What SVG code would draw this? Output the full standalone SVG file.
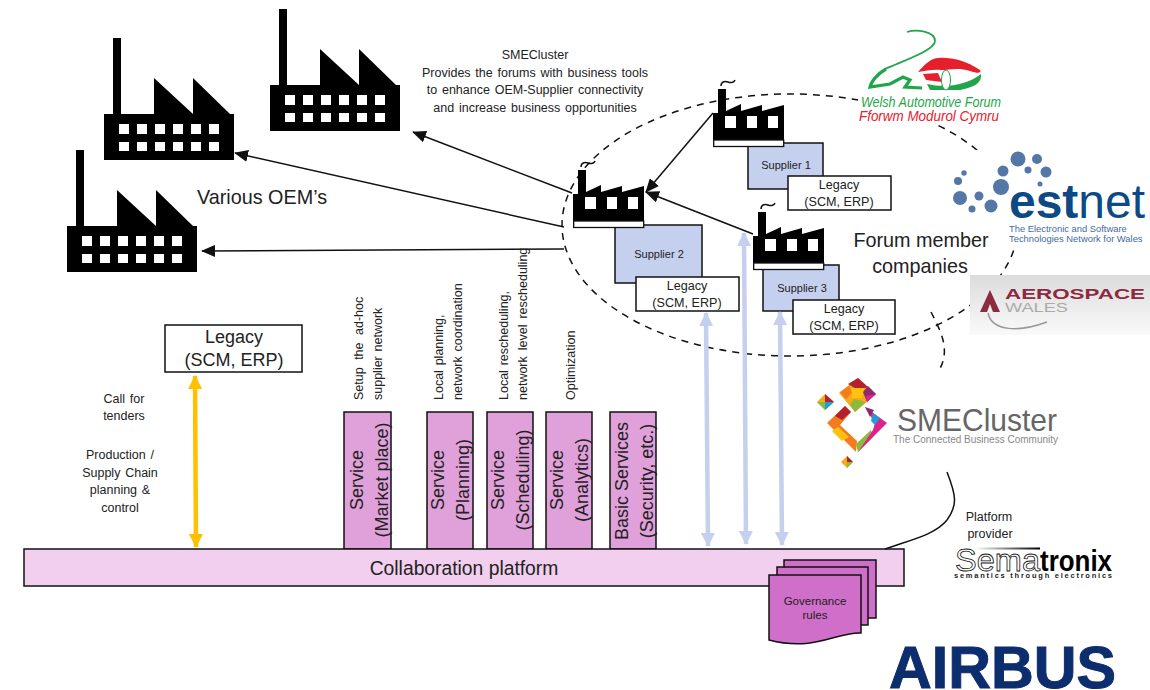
<svg xmlns="http://www.w3.org/2000/svg" width="1150" height="690" viewBox="0 0 1150 690">
<style>
text{font-family:"Liberation Sans",Arial,sans-serif;fill:#222}
.m{text-anchor:middle}
.t12{font-size:12.5px;word-spacing:1.3px}
.t18{font-size:18px}
.t20{font-size:19.8px}
.box{stroke:#111;stroke-width:1.5}
.sup{fill:#c5d0ee}
.leg{fill:#fff}
.svc{fill:#e0a0da}
.doc{fill:#cf6fc9;stroke:#111;stroke-width:1.5}
.line{fill:none;stroke:#111;stroke-width:1.5}
.blue{fill:none;stroke:#c5d0ee;stroke-width:4.5}
</style>
<defs>
<marker id="ab" markerUnits="userSpaceOnUse" markerWidth="14" markerHeight="12" refX="13" refY="6" orient="auto-start-reverse"><path d="M0,0L14,6L0,12z" fill="#111"/></marker>
<marker id="al" markerUnits="userSpaceOnUse" markerWidth="14" markerHeight="14" refX="13" refY="7" orient="auto-start-reverse"><path d="M0,0L14,7L0,14z" fill="#c5d0ee"/></marker>
<marker id="ay" markerUnits="userSpaceOnUse" markerWidth="14" markerHeight="14" refX="13" refY="7" orient="auto-start-reverse"><path d="M0,0L14,7L0,14z" fill="#ffc000"/></marker>
<linearGradient id="aero" x1="0" y1="0" x2="0" y2="1"><stop offset="0" stop-color="#dcdcdc"/><stop offset="1" stop-color="#fafafa"/></linearGradient>
<linearGradient id="sb" x1="0" y1="0" x2="1" y2="0"><stop offset="0" stop-color="#fff"/><stop offset="1" stop-color="#000"/></linearGradient>
<g id="oem">
<path d="M0,122V76H9V0H17V76H50V40L89,76V40L126,76H130V122Z" fill="#000"/>
<g fill="#fff"><path d="M15,86h10v10H15zM33,86h10v10H33zM51,86h10v10H51zM69,86h10v10H69zM87,86h10v10H87zM105,86h10v10H105zM15,104h10v9H15zM33,104h10v9H33zM51,104h10v9H51zM69,104h10v9H69zM87,104h10v9H87zM105,104h10v9H105z"/></g>
</g>
<g id="small">
<path d="M8,-3C8,-8 13,-8 15,-7S21,-6 22,-9" fill="none" stroke="#111" stroke-width="1.5"/>
<path d="M0,58V24H5V0H13V22L28,15V22L49,16V22L71,16V58Z" fill="#000"/>
<path d="M12,27h11v12H12zM34,27h10v12H34zM55,27h10v12H55z" fill="#fff"/>
<rect x="0.7" y="51" width="70" height="6.5" fill="#fff" stroke="#111" stroke-width="1.3"/>
</g>
</defs>
<rect width="1150" height="690" fill="#fff"/>

<ellipse id="forum-boundary" cx="790" cy="225" rx="228" ry="131" fill="none" stroke="#111" stroke-width="1.5" stroke-dasharray="7 6"/>

<g id="oem-1"><use href="#oem" x="104" y="38"/></g>
<g id="oem-2"><use href="#oem" x="270" y="9"/></g>
<g id="oem-3"><use href="#oem" x="67" y="150"/></g>

<g id="supplier-1"><rect class="box sup" x="748" y="143" width="75" height="46"/><text class="m" x="786" y="169" font-size="11">Supplier 1</text></g>
<g id="supplier-2"><rect class="box sup" x="615" y="225" width="87" height="58"/><text class="m" x="659" y="258" font-size="11">Supplier 2</text></g>
<g id="supplier-3"><rect class="box sup" x="763" y="265" width="76" height="46"/><text class="m" x="802" y="292" font-size="11">Supplier 3</text></g>
<g id="factory-1"><use href="#small" x="713" y="89"/></g>
<g id="factory-2"><use href="#small" x="573" y="170"/></g>
<g id="factory-3"><use href="#small" x="753" y="212"/></g>
<g id="legacy-1"><rect class="box leg" x="788" y="176" width="103" height="34"/><text class="m" x="839" y="189" font-size="12.6">Legacy</text><text class="m" x="839" y="206" font-size="12.6">(SCM, ERP)</text></g>
<g id="legacy-2"><rect class="box leg" x="636" y="277" width="103" height="34"/><text class="m" x="687" y="290" font-size="12.6">Legacy</text><text class="m" x="687" y="307" font-size="12.6">(SCM, ERP)</text></g>
<g id="legacy-3"><rect class="box leg" x="793" y="300" width="102" height="34"/><text class="m" x="844" y="313" font-size="12.6">Legacy</text><text class="m" x="844" y="330" font-size="12.6">(SCM, ERP)</text></g>
<g id="legacy-oem"><rect class="box leg" x="165" y="325" width="137" height="47"/><text class="m" x="234" y="343" font-size="18">Legacy</text><text class="m" x="234" y="366" font-size="18">(SCM, ERP)</text></g>

<g id="svc-market"><rect class="box svc" x="344" y="412" width="47" height="137"/><g transform="translate(363,480) rotate(-90)"><text class="m t18">Service</text><text class="m t18" y="25">(Market place)</text></g></g>
<g id="svc-planning"><rect class="box svc" x="427" y="412" width="46" height="137"/><g transform="translate(444,480) rotate(-90)"><text class="m t18">Service</text><text class="m t18" y="25">(Planning)</text></g></g>
<g id="svc-scheduling"><rect class="box svc" x="487" y="412" width="46" height="137"/><g transform="translate(504,480) rotate(-90)"><text class="m t18">Service</text><text class="m t18" y="25">(Scheduling)</text></g></g>
<g id="svc-analytics"><rect class="box svc" x="546" y="412" width="46" height="137"/><g transform="translate(563,480) rotate(-90)"><text class="m t18">Service</text><text class="m t18" y="25">(Analytics)</text></g></g>
<g id="svc-basic"><rect class="box svc" x="610" y="412" width="46" height="137"/><g transform="translate(628,481) rotate(-90)"><text class="m t18">Basic Services</text><text class="m t18" y="25">(Security, etc.)</text></g></g>

<g id="platform"><rect class="box" x="24" y="549" width="880" height="37" fill="#f2cfee"/><text class="m" x="464" y="575" font-size="19.3">Collaboration platform</text></g>

<g id="governance">
<rect class="doc" x="784" y="560" width="92" height="58"/>
<rect class="doc" x="777" y="567" width="91" height="58"/>
<path class="doc" d="M769,575H861V633C835,632 815,652 769,640Z"/>
<text class="m" x="815" y="605" font-size="11.5">Governance</text>
<text class="m" x="815" y="619" font-size="11.5">rules</text>
</g>

<g id="connectors">
<path class="line" marker-end="url(#ab)" d="M713,113L646,192"/>
<path class="line" marker-end="url(#ab)" d="M753,234L646,192"/>
<path class="line" marker-end="url(#ab)" d="M572,193L413,132"/>
<path class="line" marker-end="url(#ab)" d="M564,227L235,153"/>
<path class="line" marker-end="url(#ab)" d="M564,249L202,251"/>
<path class="blue" marker-start="url(#al)" marker-end="url(#al)" d="M706,313L708,546"/>
<path class="blue" marker-start="url(#al)" marker-end="url(#al)" d="M744,233L746,544"/>
<path class="blue" marker-start="url(#al)" marker-end="url(#al)" d="M780,312L782,545"/>
<path fill="none" stroke="#ffc000" stroke-width="4.5" marker-start="url(#ay)" marker-end="url(#ay)" d="M195,376L196,547"/>
<path class="line" d="M947,472C956,495 958,505 947,520C935,535 910,540 885,549"/>
</g>

<g id="labels">
<text class="m t12" x="535" y="59">SMECluster</text>
<text class="m t12" x="535" y="77">Provides the forums with business tools</text>
<text class="m t12" x="535" y="94">to enhance OEM-Supplier connectivity</text>
<text class="m t12" x="535" y="112">and increase business opportunities</text>
<text class="t20" x="197" y="204">Various OEM’s</text>
<text class="m t20" x="921" y="247">Forum member</text>
<text class="m t20" x="920" y="273">companies</text>
<text class="m t12" x="124" y="403">Call for</text>
<text class="m t12" x="124" y="420">tenders</text>
<text class="m t12" x="120" y="459">Production /</text>
<text class="m t12" x="120" y="477">Supply Chain</text>
<text class="m t12" x="120" y="494">planning &amp;</text>
<text class="m t12" x="120" y="512">control</text>
<text class="m t12" x="989" y="521">Platform</text>
<text class="m t12" x="990" y="538">provider</text>
<text class="t12" transform="translate(363,400) rotate(-90)" style="word-spacing:4px">Setup the ad-hoc</text>
<text class="t12" transform="translate(382,400) rotate(-90)">supplier network</text>
<text class="t12" transform="translate(443,400) rotate(-90)">Local planning,</text>
<text class="t12" transform="translate(462,400) rotate(-90)">network coordination</text>
<text class="t12" transform="translate(508,400) rotate(-90)">Local rescheduling,</text>
<text class="t12" transform="translate(527,400) rotate(-90)" style="word-spacing:2.5px">network level rescheduling</text>
<text class="t12" transform="translate(575,400) rotate(-90)">Optimization</text>
</g>

<g id="logo-welsh">
<rect x="858" y="22" width="148" height="102" fill="#fff"/>
<path d="M907,32C916,29 935,31 935,41C935,50 905,60 885,69" fill="none" stroke="#1fa64a" stroke-width="1.8"/>
<path d="M886,69C877,74 871,82 870,87L890,84L903,77L910,80L905,87L922,88" fill="none" stroke="#1fa64a" stroke-width="3.2"/>
<path d="M927,84C945,88 965,86 981,74C982,82 976,87 960,90L930,90Z" fill="#1fa64a"/>
<path d="M918,72C926,63 932,58 938,58C950,57 965,60 980,70C982,73 978,74 970,71C958,67 950,70 941,70C933,69 926,71 918,72Z" fill="#e5202c"/>
<path d="M923,74L938,73L942,82L926,80Z" fill="#e5202c"/>
<ellipse cx="946" cy="80" rx="4.5" ry="10" fill="#fff" stroke="#1fa64a"/>
<text x="861" y="107" font-size="14" font-style="italic" textLength="140" lengthAdjust="spacingAndGlyphs" style="fill:#1fa64a">Welsh Automotive Forum</text>
<text x="859" y="121" font-size="14" font-style="italic" textLength="140" lengthAdjust="spacingAndGlyphs" style="fill:#e5202c">Fforwm Modurol Cymru</text>
</g>

<g id="logo-estnet">
<path d="M950,150H1150V245H990V225H950Z" fill="#fff"/>
<g fill="#5577a8"><circle cx="1018" cy="159" r="7.5"/><circle cx="1037" cy="159" r="5"/><circle cx="1028" cy="170" r="3.5"/><circle cx="1046" cy="172" r="5.5"/><circle cx="1003" cy="171" r="5.5"/><circle cx="1040" cy="184" r="2.5"/><circle cx="1001" cy="187" r="8"/><circle cx="964" cy="173" r="2.7"/><circle cx="958" cy="181" r="4"/><circle cx="960" cy="198" r="7"/><circle cx="979" cy="196" r="4.5"/><circle cx="991" cy="206" r="6.5"/><circle cx="972" cy="209" r="3.5"/></g>
<text x="1009" y="218" font-size="48" textLength="136" lengthAdjust="spacingAndGlyphs" style="fill:#0d4a85"><tspan font-weight="bold">est</tspan>net</text>
<text x="1009" y="232" font-size="9.4" style="fill:#3f6aa5">The Electronic and Software</text>
<text x="1009" y="242" font-size="9.4" style="fill:#3f6aa5">Technologies Network for Wales</text>
</g>

<g id="logo-aerospace">
<rect x="970" y="275" width="180" height="60" fill="url(#aero)"/>
<path d="M990,290L980,312H987L990,304L993,312H1000Z" fill="#8c2a40"/>
<path d="M988,313C992,332 1020,332 1047,322" fill="none" stroke="#999" stroke-width="1.5"/>
<text x="1005" y="299" font-size="15" font-weight="bold" textLength="140" lengthAdjust="spacingAndGlyphs" style="fill:#8c2a40">AEROSPACE</text>
<text x="1005" y="312" font-size="12" textLength="63" lengthAdjust="spacingAndGlyphs" style="fill:#aaa">WALES</text>
</g>

<g id="forum-link">
<path d="M931,312C940,330 952,350 938,372" fill="none" stroke="#111" stroke-width="1.5" stroke-dasharray="7 6"/>
</g>

<g id="logo-smecluster">
<path d="M858,378L876,394L855,412L839,393Z" fill="#f7a81b"/>
<path d="M858,378L868,387L858,390L848,384Z" fill="#b5202e"/>
<path d="M868,386L876,394L867,402L863,392Z" fill="#8e2a6b"/>
<path d="M866,396L876,394L867,402Z" fill="#e0218a"/>
<path d="M851,388L864,388L862,398L852,398Z" fill="#ffc20e"/>
<path d="M854,399L866,402L855,412L850,405Z" fill="#8cbb3c"/>
<path d="M840,392L849,386L852,393L846,399Z" fill="#f47b20"/>
<path d="M825,394L834,402L825,410L817,402Z" fill="#f7a81b"/>
<path d="M825,394L834,402L825,402Z" fill="#b5202e"/><path d="M825,402L834,402L825,410Z" fill="#1e9fd8"/><path d="M817,402L825,402L825,410Z" fill="#8cbb3c"/>
<path d="M847,456L853,462L847,468L841,462Z" fill="#f7a81b"/>
<path d="M847,456L853,462L847,462Z" fill="#b5202e"/><path d="M847,462L853,462L847,468Z" fill="#8cbb3c"/>
<path d="M827,423L845,406L851,412L840,425L857,441L856,452Z" fill="#f47b20"/>
<path d="M835,416L845,406L851,412L842,420Z" fill="#b5202e"/>
<path d="M838,427L849,437L842,441L832,431Z" fill="#ffc20e"/>
<path d="M856,444L871,430L873,437L858,452Z" fill="#8cbb3c"/>
<path d="M865,407L887,423L858,452L873,430L875,423Z" fill="#e0218a"/>
<path d="M865,407L874,410L870,417Z" fill="#8e2a6b"/>
<path d="M873,413L880,418L875,425L871,421Z" fill="#1e9fd8"/>
<text x="897" y="431" font-size="32" textLength="160" lengthAdjust="spacingAndGlyphs" style="fill:#666">SMECluster</text>
<text x="893" y="443" font-size="10.5" textLength="165" lengthAdjust="spacingAndGlyphs" style="fill:#888">The Connected Business Community</text>
</g>

<g id="logo-sematronix">
<rect x="975" y="547.5" width="65" height="2" fill="url(#sb)"/>
<text x="955" y="571" font-size="32" textLength="85" lengthAdjust="spacingAndGlyphs" style="fill:#fff;stroke:#111;stroke-width:.8">Sema</text>
<text x="1040" y="571" font-size="29" font-weight="bold" textLength="72" lengthAdjust="spacingAndGlyphs" style="fill:#000">tronix</text>
<text x="954" y="578" font-size="7.5" font-weight="bold" textLength="158" style="fill:#222">semantics through electronics</text>
</g>

<g id="logo-airbus">
<text x="889" y="688" font-size="59" font-weight="bold" textLength="227" lengthAdjust="spacingAndGlyphs" style="fill:#0c2d6e;stroke:#0c2d6e;stroke-width:1">AIRBUS</text>
</g>
</svg>
